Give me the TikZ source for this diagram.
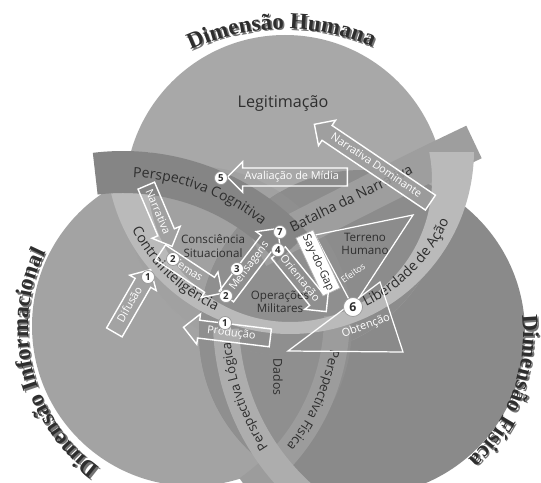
\documentclass[tikz,border=0pt]{standalone}
\usepackage{fontspec}
\setmainfont{Open Sans}
\newfontfamily\titlefont{Liberation Serif}
\usetikzlibrary{shapes.arrows,decorations.text}

\definecolor{humana}{gray}{0.66}
\definecolor{informa}{gray}{0.64}
\definecolor{fisica}{gray}{0.54}
\definecolor{humInf}{gray}{0.63}
\definecolor{humFis}{gray}{0.55}
\definecolor{infFis}{gray}{0.56}
\definecolor{centro}{gray}{0.56}
\definecolor{faixaCog}{gray}{0.52}
\definecolor{faixaBat}{gray}{0.62}
\definecolor{faixaLib}{gray}{0.73}
\definecolor{faixaLog}{gray}{0.68}
\definecolor{faixaFis}{gray}{0.61}
\definecolor{tinta}{gray}{0.18}
\definecolor{sombra}{gray}{0.45}

\begin{document}
\begin{tikzpicture}[x=0.02cm,y=-0.02cm,
    flecha/.style={single arrow,draw=white,line width=0.8pt,text=white,anchor=tail,
      font=\fontsize{6.2}{7}\selectfont,inner xsep=2pt,inner ysep=1.6pt,
      text height=4.8pt,text depth=1.4pt,single arrow head extend=3.6pt},
    num/.style={circle,fill=white,draw=black!40,line width=0.4pt,inner sep=0pt,
      minimum size=0.26cm,text=tinta,font=\fontsize{5.5}{6}\selectfont\bfseries},
    rotulo/.style={text=tinta,align=center,font=\fontsize{6.6}{7.6}\selectfont},
    linha/.style={draw=white,line width=0.7pt}]
  \useasboundingbox (0,0) rectangle (541,483);
  \fill[white] (0,0) rectangle (541,483);

  % the three dimensions
  \fill[informa] (192,326) circle[radius=160];
  \fill[fisica] (362,333) circle[radius=163];
  \fill[humana] (285,195) circle[radius=160];
  \begin{scope}
    \clip (192,326) circle[radius=160];
    \fill[infFis] (362,333) circle[radius=163];
  \end{scope}
  \begin{scope}
    \clip (285,195) circle[radius=160];
    \fill[humInf] (192,326) circle[radius=160];
    \fill[humFis] (362,333) circle[radius=163];
    \clip (192,326) circle[radius=160];
    \fill[centro] (362,333) circle[radius=163];
  \end{scope}

  % bands
  \draw[faixaFis,line width=0.52cm] ([shift={(0:211)}]126,316) arc[start angle=0,end angle=55,radius=211];
  \draw[faixaLog,line width=0.52cm] ([shift={(178:232)}]458,321) arc[start angle=178,end angle=128,radius=232];
  \draw[faixaBat,line width=0.72cm] (258,250) .. controls (330,213) and (400,177) .. (474,142);
  \begin{scope}
    \clip (0,153) rectangle (541,483);
    \fill[faixaLib,even odd rule] (290,150) circle[radius=184] (290,180) circle[radius=142];
  \end{scope}
  \draw[faixaCog,line width=0.84cm] ([shift={(-97:228)}]123,400) arc[start angle=-97,end angle=-42,radius=228];

  % titles
  \begin{scope}[shift={(1.6,1.6)}]
    \path[decorate,decoration={text along path,text align=center,
        text={|\titlefont\bfseries\fontsize{13}{15}\selectfont\color{sombra}|Dimensão Humana}}]
      ([shift={(-125:222)}]285,251) arc[start angle=-125,end angle=-57,radius=222];
    \path[decorate,decoration={text along path,text align=center,
        text={|\titlefont\bfseries\fontsize{13}{15}\selectfont\color{sombra}|Dimensão Informacional}}]
      ([shift={(116:172)}]200,328) arc[start angle=116,end angle=216,radius=172];
    \path[decorate,decoration={text along path,text align=center,
        text={|\titlefont\bfseries\fontsize{13}{15}\selectfont\color{sombra}|Dimensão Física}}]
      ([shift={(-25:168)}]355,335) arc[start angle=-25,end angle=66,radius=168];
  \end{scope}
  \path[decorate,decoration={text along path,text align=center,
      text={|\titlefont\bfseries\fontsize{13}{15}\selectfont\color{tinta}|Dimensão Humana}}]
    ([shift={(-125:222)}]285,251) arc[start angle=-125,end angle=-57,radius=222];
  \path[decorate,decoration={text along path,text align=center,
      text={|\titlefont\bfseries\fontsize{13}{15}\selectfont\color{tinta}|Dimensão Informacional}}]
    ([shift={(116:172)}]200,328) arc[start angle=116,end angle=216,radius=172];
  \path[decorate,decoration={text along path,text align=center,
      text={|\titlefont\bfseries\fontsize{13}{15}\selectfont\color{tinta}|Dimensão Física}}]
    ([shift={(-25:168)}]355,335) arc[start angle=-25,end angle=66,radius=168];

  % band labels
  \path[decorate,decoration={text along path,text align=center,
      text={|\fontsize{8}{9}\selectfont\color{tinta}|Perspectiva Cognitiva}}]
    ([shift={(-100:223)}]123,400) arc[start angle=-100,end angle=-39,radius=223];
  \path[decorate,decoration={text along path,text align=center,
      text={|\fontsize{8}{9}\selectfont\color{tinta}|Contrainteligência}}]
    ([shift={(164:177)}]290,150) arc[start angle=164,end angle=104,radius=177];
  \path[decorate,decoration={text along path,text align=center,
      text={|\fontsize{8}{9}\selectfont\color{tinta}|Liberdade de Ação}}]
    ([shift={(74:174)}]290,150) arc[start angle=74,end angle=14,radius=174];
  \path[decorate,decoration={text along path,text align=center,
      text={|\fontsize{7.5}{9}\selectfont\color{tinta}|Perspectiva Lógica}}]
    ([shift={(130:228)}]458,321) arc[start angle=130,end angle=191,radius=228];
  \path[decorate,decoration={text along path,text align=center,
      text={|\fontsize{7.5}{9}\selectfont\color{tinta}|Perspectiva Física}}]
    ([shift={(-6:207)}]126,316) arc[start angle=-6,end angle=54.5,radius=207];
  \node[rotate=26,text=tinta,font=\fontsize{8}{9}\selectfont] (batalha) at (351,198) {Batalha da Narrativa};

  % labels
  \node[rotulo,font=\fontsize{9.2}{10}\selectfont] (legit) at (283,104) {Legitimação};
  \node[rotulo] (consc) at (213,246) {Consciência\\Situacional};
  \node[rotulo] (terreno) at (365,244) {Terreno\\Humano};
  \node[rotulo] (opmil) at (280,302) {Operações\\Militares};
  \node[rotulo,rotate=-90,font=\fontsize{7}{8}\selectfont] (dados) at (278,377) {Dados};
  \node[text=white,rotate=36,font=\fontsize{5}{6}\selectfont] (efeitos) at (353,273) {Efeitos};
  \node[text=white,rotate=20,font=\fontsize{6.3}{7}\selectfont] (obtencao) at (366,326) {Obtenção};

  % triangles
  \coordinate (ta) at (315,235);
  \coordinate (tb) at (413,215);
  \coordinate (tc) at (353,307);
  \coordinate (td) at (380,282);
  \coordinate (te) at (403,352);
  \coordinate (tf) at (288,351);
  \draw[linha] (ta) -- (tb) -- (tc) -- cycle;
  \draw[linha] (td) -- (te) -- (tf) -- cycle;

  \node[draw=black!30,fill=white,rotate=-65,minimum width=1.2cm,minimum height=0.38cm,
    inner sep=1pt,text=tinta,font=\fontsize{6.4}{7}\selectfont] (saygap) at (318,263) {Say-do-Gap};

  % arrows
  \node[flecha,shape border rotate=180,minimum height=2.4cm] (avaliacao) at (348,177) {Avaliação de Mídia};
  \node[flecha,shape border rotate=180,rotate=-34,minimum height=2.8cm,fill=faixaBat,fill opacity=0.85,text opacity=1] (narrdom) at (431,203) {Narrativa Dominante};
  \node[flecha,rotate=-67,minimum height=1.32cm] (narrativa) at (146,185) {Narrativa};
  \node[flecha,rotate=-33.5,minimum height=1.48cm] (temas) at (160,252) {Temas};
  \node[flecha,rotate=53,minimum height=1.7cm] (mensagens) at (226,297) {Mensagens};
  \node[flecha,rotate=-51,minimum height=1.52cm] (orientacao) at (278,252) {Orientação};
  \node[flecha,rotate=60,minimum height=1.45cm] (difusao) at (114,333) {Difusão};
  \node[flecha,shape border rotate=180,rotate=-7,minimum height=1.75cm] (producao) at (271,338) {Produção};

  % steps
  \node[num] (n5) at (221,178) {5};
  \node[num] (n7) at (280,232) {7};
  \node[num] (n4) at (278,250) {4};
  \node[num] (n3) at (237,269) {3};
  \node[num] (n2a) at (173,259) {2};
  \node[num] (n2b) at (226,296) {2};
  \node[num] (n1a) at (148,277) {1};
  \node[num] (n1b) at (225,323) {1};
  \node[num,minimum size=0.38cm,font=\fontsize{7}{8}\selectfont\bfseries] (n6) at (353,307) {6};
\end{tikzpicture}
\end{document}
